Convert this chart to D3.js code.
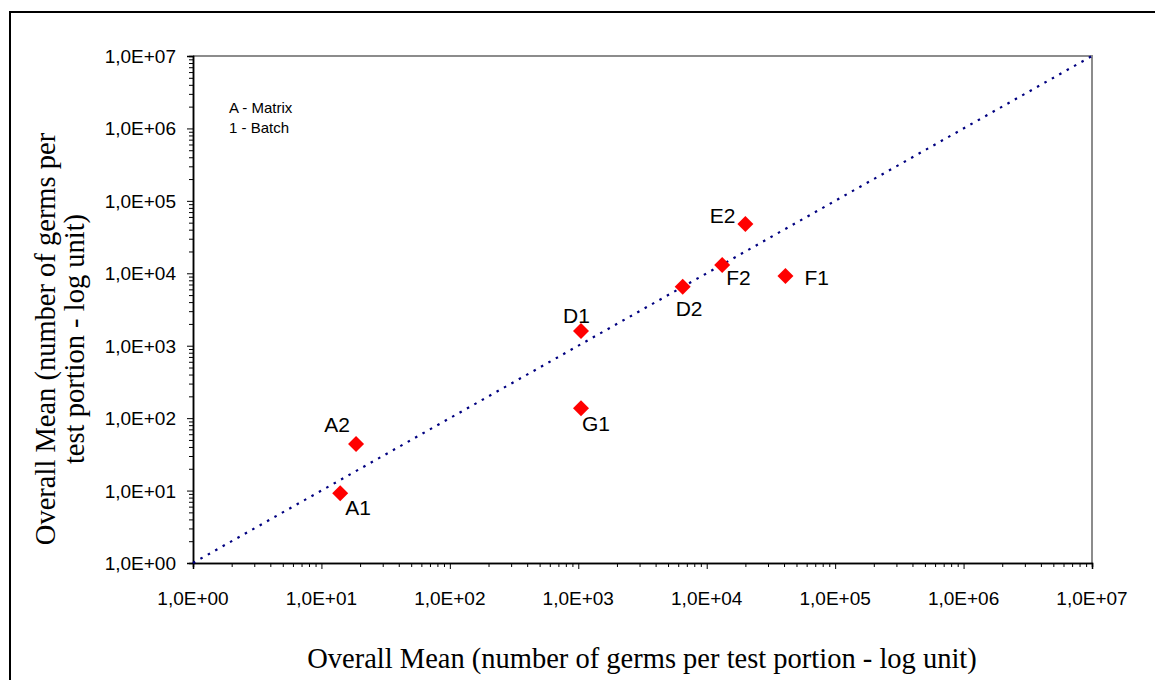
<!DOCTYPE html>
<html>
<head>
<meta charset="utf-8">
<script src="https://cdn.jsdelivr.net/npm/d3@7"></script>
<style>
  body { margin: 0; background: #fff; }
  text { font-family: Arial, "Liberation Sans", sans-serif; fill: #000; }
  .title { font-family: "Times New Roman", "Liberation Serif", serif; }
</style>
</head>
<body>
<div id="chart"></div>
<script>
// datos
const labels = ["A1", "A2", "D1", "D2", "E2", "F1", "F2", "G1"]
const xValues = [14, 18.6, 1050, 6500, 20000, 41000, 13200, 1050]
const yValues = [9.2, 44, 1600, 6500, 48000, 9200, 13000, 137]
const tickValues = [1e0, 1e1, 1e2, 1e3, 1e4, 1e5, 1e6, 1e7]
const tickLabels = ["1,0E+00", "1,0E+01", "1,0E+02", "1,0E+03", "1,0E+04", "1,0E+05", "1,0E+06", "1,0E+07"]
const legendLines = ["A - Matrix", "1 - Batch"]

// posiciones de las etiquetas respecto al marcador
const labelOffsets = {
  A1: [5, 22, "start"], A2: [-6, -12, "end"], D1: [-18, -8, "start"], D2: [-7, 29, "start"],
  E2: [-10, -1, "end"], F1: [19, 9, "start"], F2: [4, 20, "start"], G1: [1, 23, "start"]
}

const width = 1155
const height = 680
const margin = { top: 56, right: 63, bottom: 117, left: 193 }
const innerW = width - margin.left - margin.right
const innerH = height - margin.top - margin.bottom

const svg = d3.select("div#chart").append("svg").attr("width", width).attr("height", height)

// marco exterior
svg.append("rect").attr("x", 10).attr("y", 12).attr("width", 1200).attr("height", 700)
  .attr("fill", "none").attr("stroke", "#000").attr("stroke-width", 2)

const g = svg.append("g").attr("transform", `translate(${margin.left}, ${margin.top})`)

// escalas
const x = d3.scaleLog().domain([1, 1e7]).range([0, innerW])
const y = d3.scaleLog().domain([1, 1e7]).range([innerH, 0])

// borde gris del área
g.append("path").attr("d", `M0,0H${innerW}V${innerH}`).attr("fill", "none").attr("stroke", "#8c8c8c").attr("stroke-width", 2)

// ticks menores y mayores
const minor = []
for (let e = 0; e < 7; e++) for (let k = 2; k <= 9; k++) minor.push(k * Math.pow(10, e))

const xAxisGroup = g.append("g").attr("transform", `translate(0, ${innerH})`)
const yAxisGroup = g.append("g")

xAxisGroup.call(d3.axisBottom(x).tickValues(minor).tickSize(4).tickFormat(""))
xAxisGroup.call(g2 => g2.append("g").call(d3.axisBottom(x).tickValues(tickValues).tickSize(6).tickFormat("")))
yAxisGroup.call(d3.axisLeft(y).tickValues(minor).tickSize(4).tickFormat(""))
yAxisGroup.call(g2 => g2.append("g").call(d3.axisLeft(y).tickValues(tickValues).tickSize(6).tickFormat("")))
g.selectAll(".domain").attr("stroke", "#000").attr("stroke-width", 1.5)
g.selectAll(".tick line").attr("stroke", "#000")

// etiquetas de los ticks
g.selectAll("text.xtick").data(tickValues).enter().append("text")
  .attr("class", "xtick").attr("x", d => x(d)).attr("y", innerH + 42)
  .attr("text-anchor", "middle").style("font-size", "19px")
  .text((d, i) => tickLabels[i])
g.selectAll("text.ytick").data(tickValues).enter().append("text")
  .attr("class", "ytick").attr("x", -17).attr("y", d => y(d) + 7)
  .attr("text-anchor", "end").style("font-size", "19px")
  .text((d, i) => tickLabels[i])

// diagonal punteada
g.append("line")
  .attr("x1", x(1)).attr("y1", y(1)).attr("x2", x(1e7)).attr("y2", y(1e7))
  .attr("stroke", "#000080").attr("stroke-width", 2.2).attr("stroke-dasharray", "2.5,6")

// puntos
const points = labels.map((l, i) => ({ label: l, x: xValues[i], y: yValues[i] }))
g.selectAll("path.point").data(points).enter().append("path")
  .attr("class", "point")
  .attr("d", d3.symbol(d3.symbolSquare, 128))
  .attr("transform", d => `translate(${x(d.x)}, ${y(d.y)}) rotate(45)`)
  .attr("fill", "#ff0000")

g.selectAll("text.plabel").data(points).enter().append("text")
  .attr("class", "plabel")
  .attr("x", d => x(d.x) + labelOffsets[d.label][0])
  .attr("y", d => y(d.y) + labelOffsets[d.label][1])
  .attr("text-anchor", d => labelOffsets[d.label][2])
  .style("font-size", "21px")
  .text(d => d.label)

// leyenda de texto
g.selectAll("text.legend").data(legendLines).enter().append("text")
  .attr("class", "legend").attr("x", 36).attr("y", (d, i) => 57 + i * 19.5)
  .style("font-size", "15px").text(d => d)

// títulos
svg.append("text").attr("class", "title")
  .attr("x", 642).attr("y", 668).attr("text-anchor", "middle")
  .style("font-size", "28.5px")
  .text("Overall Mean (number of germs per test portion - log unit)")

const yTitle = svg.append("text").attr("class", "title")
  .attr("transform", "translate(0, 339) rotate(-90)")
  .attr("text-anchor", "middle").style("font-size", "28.5px")
yTitle.append("tspan").attr("x", 0).attr("y", 55).text("Overall Mean (number of germs per")
yTitle.append("tspan").attr("x", 0).attr("y", 84).text("test portion - log unit)")
</script>
</body>
</html>
